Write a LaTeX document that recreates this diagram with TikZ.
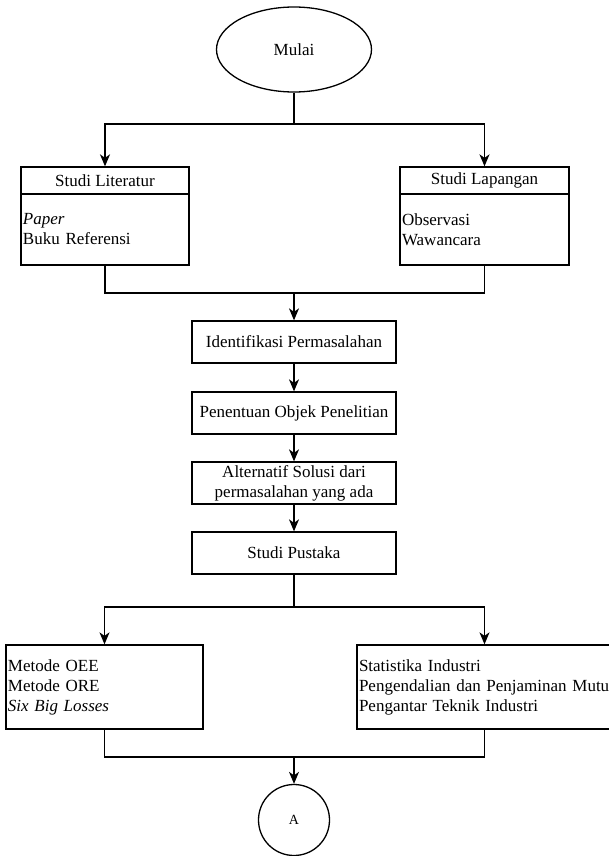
\documentclass[tikz,border=0pt]{standalone}
\usepackage{fontspec}
\setmainfont{Liberation Serif}
\usetikzlibrary{arrows.meta,shapes.geometric}

\begin{document}
\begin{tikzpicture}
[x=1pt,y=-1pt,
  lineDecorate/.style={-,line width=1.3pt},%
  arrowDecorate/.style={-{Stealth[length=12pt,width=10pt,inset=3.5pt]},line width=1.3pt},%
  boxDecorate/.style={shape=rectangle,draw,line width=1.3pt,inner sep=2pt,font=\fontsize{17}{20}\selectfont},%
  listDecorate/.style={boxDecorate,align=left},%
  stepDecorate/.style={boxDecorate,align=center,minimum width=204pt,minimum height=42pt}]
\useasboundingbox (0,0) rectangle (608,856);
%% start and connector
\node (mulai) at (294,49.5) [shape=ellipse,draw,line width=1.3pt,inner sep=0pt,minimum width=155pt,minimum height=85pt,font=\fontsize{17}{20}\selectfont] {Mulai};
\node (conA) at (294,820) [shape=circle,draw,line width=1.3pt,inner sep=0pt,minimum size=71pt,font=\fontsize{14}{17}\selectfont] {A};
%% top boxes
\node (litHead) at (105,180.5) [boxDecorate,minimum width=168pt,minimum height=27pt] {Studi Literatur};
\node (litBody) at (105,229.5) [listDecorate,text width=164pt,minimum height=71pt] {\textit{Paper}\\Buku Referensi};
\node (lapHead) at (484.5,180.5) [boxDecorate,minimum width=169pt,minimum height=27pt] {Studi Lapangan};
\node (lapBody) at (484.5,229.5) [listDecorate,text width=165pt,minimum height=71pt] {Observasi\\Wawancara};
%% middle steps
\foreach \nodename/\y/\txt in {ident/342/{Identifikasi Permasalahan}, objek/413/{Penentuan Objek Penelitian}, solusi/483/{Alternatif Solusi dari\\permasalahan yang ada}, pustaka/553/{Studi Pustaka}}
{
  \node (\nodename) at (294,\y) [stepDecorate] {\txt};
}
%% bottom boxes
\node (metode) at (104.5,687) [listDecorate,text width=193pt,minimum height=84pt] {Metode OEE\\Metode ORE\\\textit{Six Big Losses}};
\node (matkul) at (484.5,687) [listDecorate,text width=251pt,minimum height=84pt] {Statistika Industri\\Pengendalian dan Penjaminan Mutu\\Pengantar Teknik Industri};
%% branch points
\coordinate (splitTop) at (294,124);
\coordinate (joinTop) at (294,293);
\coordinate (splitBot) at (294,607);
\coordinate (joinBot) at (294,757);
%% edges or lines
\draw[lineDecorate] (mulai) -- (splitTop);
\draw[arrowDecorate] (splitTop) -| (litHead);
\draw[arrowDecorate] (splitTop) -| (lapHead);
\draw[lineDecorate] (litBody) |- (joinTop);
\draw[lineDecorate] (lapBody) |- (joinTop);
\draw[arrowDecorate] (joinTop) -- (ident);
\foreach \startnode/\endnode in {ident/objek, objek/solusi, solusi/pustaka}
{
  \draw[arrowDecorate] (\startnode) -- (\endnode);
}
\draw[lineDecorate] (pustaka) -- (splitBot);
\draw[arrowDecorate] (splitBot) -| (metode);
\draw[arrowDecorate] (splitBot) -| (matkul);
\draw[lineDecorate] (metode) |- (joinBot);
\draw[lineDecorate] (matkul) |- (joinBot);
\draw[arrowDecorate] (joinBot) -- (conA);
\end{tikzpicture}
\end{document}
